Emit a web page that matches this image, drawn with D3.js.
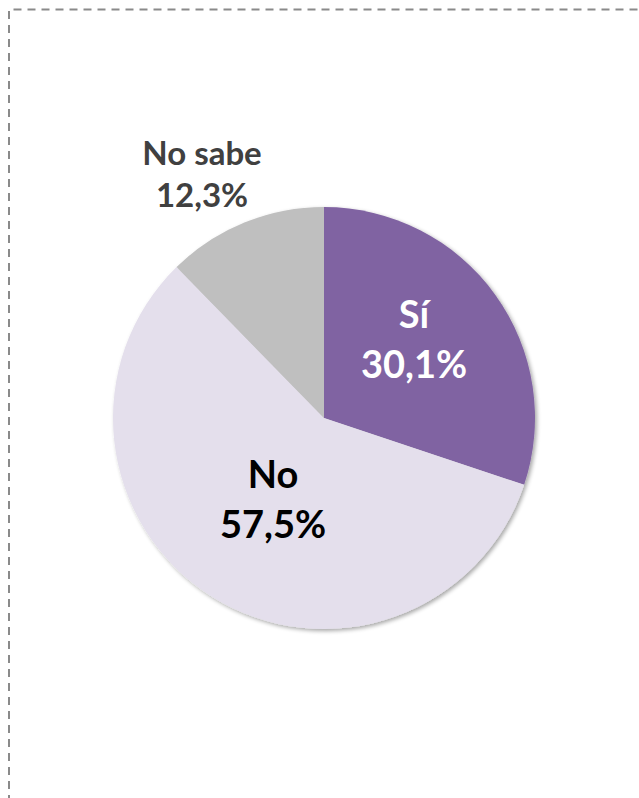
<!DOCTYPE html>
<html><head><meta charset="utf-8">
<script src="https://cdn.jsdelivr.net/npm/d3@7"></script>
<style>html,body{margin:0;padding:0;background:#fff;overflow:hidden;}svg{display:block;}</style>
</head><body>
<svg id="c" width="639" height="798"></svg>
<script>
const categories = ["Sí", "No", "No sabe"];
const values = [30.1, 57.5, 12.3];
const valueLabels = ["30,1%", "57,5%", "12,3%"];
const colors = ["#8064A2", "#E4DFEC", "#BFBFBF"];
const textColors = ["#FFFFFF", "#000000", "#404040"];
// label placement: offset of label centre from pie centre, font size, half line gap
const labelPlace = [
  { dx: 90, dy: -65, size: 38, half: 25 },
  { dx: -51, dy: 95, size: 38, half: 25 },
  { dx: -122, dy: -232, size: 33, half: 21 }
];

const svg = d3.select("#c");
const W = 639, H = 798;
const cx = 324, cy = 418, R = 211;

svg.append("path")
  .attr("d", `M9,${H + 5} L9,9.5 L${W + 5},9.5`)
  .attr("fill", "none").attr("stroke", "#8a8a8a").attr("stroke-width", 2)
  .attr("stroke-dasharray", "8,6");

const defs = svg.append("defs");
const f = defs.append("filter").attr("id", "sh").attr("x", "-10%").attr("y", "-10%").attr("width", "120%").attr("height", "120%");
f.append("feGaussianBlur").attr("in", "SourceAlpha").attr("stdDeviation", 2);
f.append("feOffset").attr("dx", 2).attr("dy", 2).attr("result", "ob");
f.append("feComponentTransfer").append("feFuncA").attr("type", "linear").attr("slope", 0.35);
const m = f.append("feMerge");
m.append("feMergeNode");
m.append("feMergeNode").attr("in", "SourceGraphic");

const pie = d3.pie().sort(null).value(d => d)(values);
const arc = d3.arc().innerRadius(0).outerRadius(R);
const g = svg.append("g").attr("transform", `translate(${cx},${cy})`);
g.append("g").attr("filter", "url(#sh)").selectAll("path").data(pie).join("path")
  .attr("d", arc).attr("fill", (d, i) => colors[i]);

const lg = g.selectAll("text.lab").data(pie).join("text").attr("class", "lab")
  .attr("text-anchor", "middle")
  .attr("font-family", "Lato, 'Open Sans', sans-serif")
  .attr("font-weight", 700)
  .attr("font-size", (d, i) => labelPlace[i].size)
  .attr("fill", (d, i) => textColors[i])
  .attr("transform", (d, i) => `translate(${labelPlace[i].dx},${labelPlace[i].dy})`);
lg.append("tspan").attr("x", 0).attr("y", (d, i) => -labelPlace[i].half).text((d, i) => categories[i]);
lg.append("tspan").attr("x", 0).attr("y", (d, i) => labelPlace[i].half).text((d, i) => valueLabels[i]);
</script>
</body></html>
